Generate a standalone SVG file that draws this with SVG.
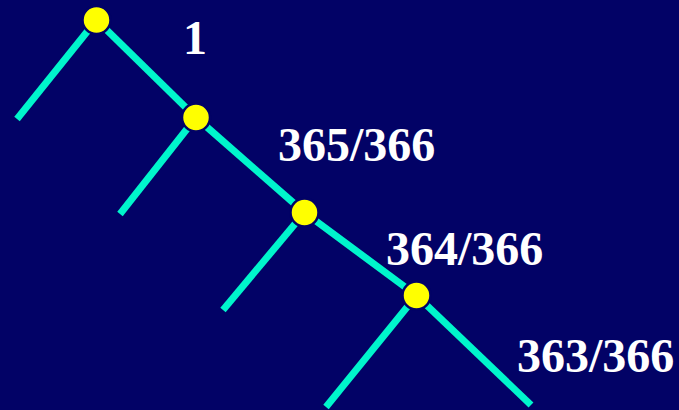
<svg xmlns="http://www.w3.org/2000/svg" width="679" height="410" viewBox="0 0 679 410">
  <style>
    .edge { stroke: #00f5cc; stroke-width: 7; stroke-linecap: butt; fill: none; }
    .node { fill: #ffff00; stroke: #020266; stroke-width: 2.5; }
    .lbl { font-family: "Liberation Serif", "Times New Roman", serif; font-weight: bold; font-size: 48px; fill: #ffffff; }
  </style>
  <rect width="679" height="410" fill="#020266"/>
  <g id="connectors">
    <line class="edge" x1="96.5" y1="20" x2="17" y2="119"/>
    <line class="edge" x1="96.5" y1="20" x2="196" y2="117.5"/>
    <line class="edge" x1="196" y1="117.5" x2="120" y2="214"/>
    <line class="edge" x1="196" y1="117.5" x2="304.5" y2="212.5"/>
    <line class="edge" x1="304.5" y1="212.5" x2="223" y2="310"/>
    <line class="edge" x1="304.5" y1="212.5" x2="416.5" y2="295.5"/>
    <line class="edge" x1="416.5" y1="295.5" x2="326" y2="407"/>
    <line class="edge" x1="416.5" y1="295.5" x2="531" y2="405"/>
  </g>
  <g id="n1"><circle class="node" cx="96.5" cy="20" r="14"/></g>
  <g id="n2"><circle class="node" cx="196" cy="117.5" r="14"/></g>
  <g id="n3"><circle class="node" cx="304.5" cy="212.5" r="14"/></g>
  <g id="n4"><circle class="node" cx="416.5" cy="295.5" r="14"/></g>
  <g id="labels">
    <text class="lbl" x="183" y="54">1</text>
    <text class="lbl" x="278" y="161">365/366</text>
    <text class="lbl" x="386" y="265">364/366</text>
    <text class="lbl" x="517" y="372">363/366</text>
  </g>
</svg>
